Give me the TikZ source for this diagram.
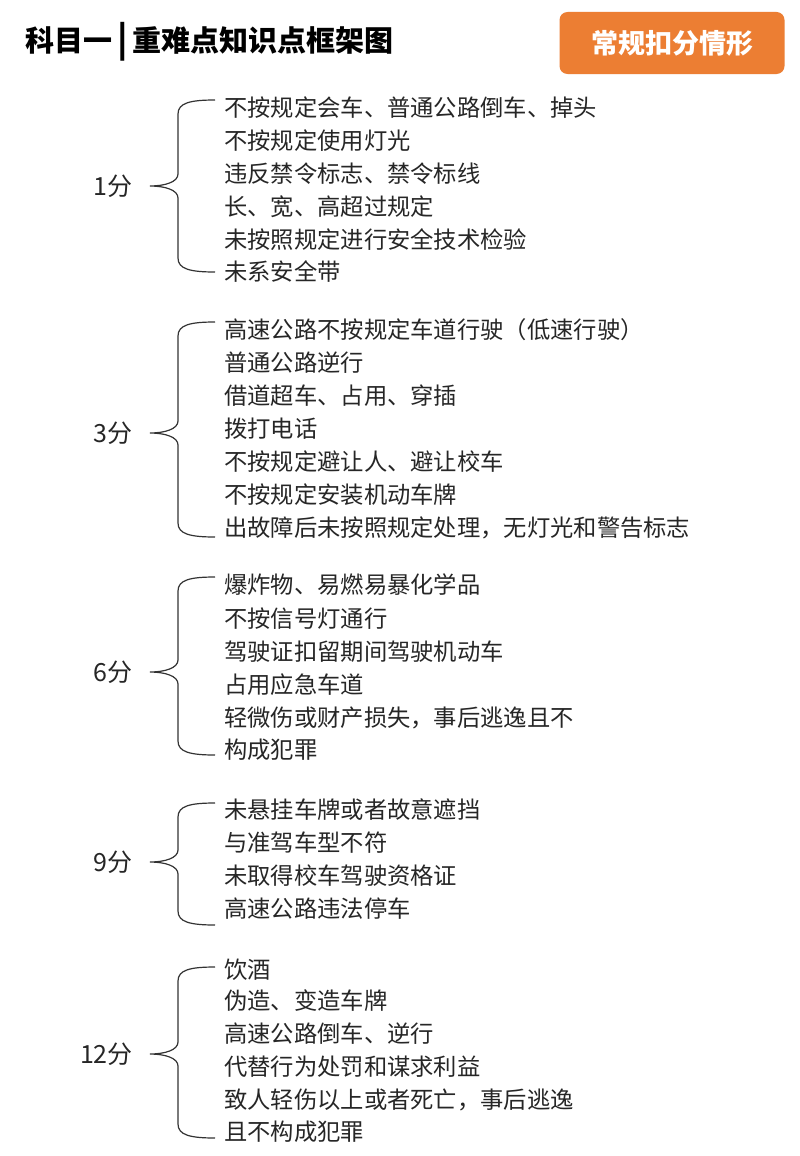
\documentclass[tikz,border=0pt]{standalone}
\usepackage{fontspec}
\newfontfamily\cjk{Noto Sans CJK SC}
\setmainfont{Liberation Serif}
\definecolor{orng}{HTML}{EC7E33}
\newcommand\mybrace[3]{%
\draw[brc] (215,#1) .. controls (190,#1) and (178,#1+3) .. (178,#1+14) -- (178,#2-12) .. controls (178,#2-4) and (165,#2) .. (150,#2) .. controls (165,#2) and (178,#2+4) .. (178,#2+12) -- (178,#3-14) .. controls (178,#3-3) and (190,#3) .. (215,#3);}
\begin{document}
\begin{tikzpicture}[x=1pt,y=-1pt,
 brc/.style={line width=1.2pt,black!80},
 item/.style={anchor=west,inner sep=0pt,font=\cjk\fontsize{23.3}{23.3}\selectfont,text=black!85},
 lbl/.style={anchor=east,inner sep=0pt,font=\fontsize{25}{25}\selectfont\cjk,text=black!85}]
\useasboundingbox[fill=white] (0,0) rectangle (800,1156);
\node[anchor=west,inner sep=0pt,font=\cjk\bfseries\fontsize{29}{29}\selectfont] (title) at (25,42) {科目一\,{\fontsize{34}{34}\selectfont|}\,重难点知识点框架图};
\node[fill=orng,rounded corners=8pt,minimum width=225pt,minimum height=62pt,text=white,font=\cjk\bfseries\fontsize{27}{27}\selectfont] (tag) at (672,43) {常规扣分情形};
% group 1
\mybrace{100}{186}{272}
\node[lbl] (g1) at (133,186) {1分};
\node[item] (a1) at (224,108) {不按规定会车、普通公路倒车、掉头};
\node[item] (a2) at (224,141) {不按规定使用灯光};
\node[item] (a3) at (224,174) {违反禁令标志、禁令标线};
\node[item] (a4) at (224,207) {长、宽、高超过规定};
\node[item] (a5) at (224,240) {未按照规定进行安全技术检验};
\node[item] (a6) at (224,272) {未系安全带};
% group 3
\mybrace{322}{433}{537}
\node[lbl] (g3) at (133,433) {3分};
\node[item] (b1) at (224,330) {高速公路不按规定车道行驶（低速行驶）};
\node[item] (b2) at (224,363) {普通公路逆行};
\node[item] (b3) at (224,396) {借道超车、占用、穿插};
\node[item] (b4) at (224,429) {拨打电话};
\node[item] (b5) at (224,462) {不按规定避让人、避让校车};
\node[item] (b6) at (224,495) {不按规定安装机动车牌};
\node[item] (b7) at (224,528) {出故障后未按照规定处理，无灯光和警告标志};
% group 6
\mybrace{577}{672}{755}
\node[lbl] (g6) at (133,672) {6分};
\node[item] (c1) at (224,585) {爆炸物、易燃易暴化学品};
\node[item] (c2) at (224,619) {不按信号灯通行};
\node[item] (c3) at (224,652) {驾驶证扣留期间驾驶机动车};
\node[item] (c4) at (224,685) {占用应急车道};
\node[item] (c5) at (224,718) {轻微伤或财产损失，事后逃逸且不};
\node[item] (c6) at (224,750) {构成犯罪};
% group 9
\mybrace{803}{862}{925}
\node[lbl] (g9) at (133,862) {9分};
\node[item] (d1) at (224,810) {未悬挂车牌或者故意遮挡};
\node[item] (d2) at (224,843) {与准驾车型不符};
\node[item] (d3) at (224,876) {未取得校车驾驶资格证};
\node[item] (d4) at (224,909) {高速公路违法停车};
% group 12
\mybrace{967}{1054}{1138}
\node[lbl] (g12) at (133,1054) {12分};
\node[item] (e1) at (224,970) {饮酒};
\node[item] (e2) at (224,1001) {伪造、变造车牌};
\node[item] (e3) at (224,1034) {高速公路倒车、逆行};
\node[item] (e4) at (224,1067) {代替行为处罚和谋求利益};
\node[item] (e5) at (224,1100) {致人轻伤以上或者死亡，事后逃逸};
\node[item] (e6) at (224,1132) {且不构成犯罪};
\end{tikzpicture}
\end{document}
